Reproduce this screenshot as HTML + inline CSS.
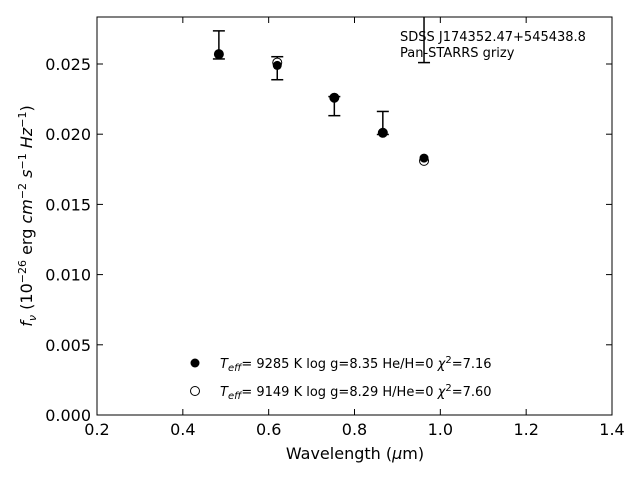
<!DOCTYPE html>
<html><head><meta charset="utf-8"><style>
body{margin:0;background:#fff}
svg{display:block;font-family:"DejaVu Sans","Liberation Sans",sans-serif}
</style></head><body>
<svg id="chart" width="640" height="480" viewBox="0 0 640 480">
<rect x="0" y="0" width="640" height="480" fill="#fff"/>
<defs><clipPath id="clip"><rect x="97" y="17" width="515" height="398"/></clipPath></defs>
<g id="marks" clip-path="url(#clip)"></g>
<g id="axes"></g>
<rect x="97" y="17" width="515" height="398" fill="none" stroke="#000" stroke-width="1"/>
<text x="400" y="41" font-size="13">SDSS J174352.47+545438.8</text>
<text x="400" y="57" font-size="13">Pan-STARRS grizy</text>
<text x="355" y="459" font-size="16" text-anchor="middle">Wavelength (<tspan font-style="italic">μ</tspan>m)</text>
<text transform="translate(32,216) rotate(-90)" font-size="16" text-anchor="middle"><tspan font-style="italic">f</tspan><tspan font-style="italic" font-size="11" dy="4">ν</tspan><tspan dy="-4"> (10</tspan><tspan font-size="11" dy="-6">−26</tspan><tspan dy="6"> erg </tspan><tspan font-style="italic">cm</tspan><tspan font-size="11" dy="-6">−2</tspan><tspan dy="6"> </tspan><tspan font-style="italic">s</tspan><tspan font-size="11" dy="-6">−1</tspan><tspan dy="6"> </tspan><tspan font-style="italic">Hz</tspan><tspan font-size="11" dy="-6">−1</tspan><tspan dy="6">)</tspan></text>
<g font-size="13">
<circle cx="195" cy="363" r="4.5" fill="#000"/>
<text x="220" y="368"><tspan font-style="italic">T</tspan><tspan font-style="italic" font-size="10" dy="3">eff</tspan><tspan dy="-3">=  9285 K  log g=8.35  He/H=0  </tspan><tspan font-style="italic">χ</tspan><tspan font-size="10" dy="-5">2</tspan><tspan dy="5">=7.16</tspan></text>
<circle cx="195" cy="391" r="4.5" fill="#fff" stroke="#000"/>
<text x="220" y="396"><tspan font-style="italic">T</tspan><tspan font-style="italic" font-size="10" dy="3">eff</tspan><tspan dy="-3">=  9149 K  log g=8.29  H/He=0  </tspan><tspan font-style="italic">χ</tspan><tspan font-size="10" dy="-5">2</tspan><tspan dy="5">=7.60</tspan></text>
</g>
</svg>
<script>
const wavelengths = [0.484, 0.620, 0.753, 0.866, 0.962];
const observedFlux = [0.02636, 0.0247, 0.0220, 0.0208, 0.0276];
const observedErr = [0.0010, 0.00082, 0.00068, 0.00082, 0.0025];
const modelHFlux = [0.0257, 0.0249, 0.0226, 0.0201, 0.0183];
const modelHeFlux = [0.0257, 0.0251, 0.0226, 0.0201, 0.0181];
const xTicks = [0.2, 0.4, 0.6, 0.8, 1.0, 1.2, 1.4];
const xTickLabels = ["0.2","0.4","0.6","0.8","1.0","1.2","1.4"];
const yTicks = [0, 0.005, 0.010, 0.015, 0.020, 0.025];
const yTickLabels = ["0.000","0.005","0.010","0.015","0.020","0.025"];

const X = v => 97 + (v - 0.2) / 1.2 * 515;
const Y = v => 415 - v / 0.005 * 70.2;
const NS = "http://www.w3.org/2000/svg";
const marks = document.getElementById("marks");
const axes = document.getElementById("axes");
function mk(tag, attrs, parent){const e=document.createElementNS(NS,tag);for(const k in attrs)e.setAttribute(k,attrs[k]);parent.appendChild(e);return e;}

xTicks.forEach((t,i)=>{
  const x=X(t);
  const a=mk("line",{x1:x,x2:x,y1:415,y2:409,stroke:"#000"},axes);
  
  
  const b=mk("line",{x1:x,x2:x,y1:17,y2:23,stroke:"#000"},axes);
  
  
  const l=mk("text",{x:x,y:435,"font-size":16,"text-anchor":"middle"},axes);
  l.textContent=xTickLabels[i];
  
  
});
yTicks.forEach((t,i)=>{
  const y=Y(t);
  const a=mk("line",{x1:97,x2:103,y1:y,y2:y,stroke:"#000"},axes);
  
  
  const b=mk("line",{x1:606,x2:612,y1:y,y2:y,stroke:"#000"},axes);
  
  
  const l=mk("text",{x:91,y:y+6,"font-size":16,"text-anchor":"end"},axes);
  l.textContent=yTickLabels[i];
  
  
});
wavelengths.forEach((w,i)=>{
  const x=X(w), yt=Y(observedFlux[i]+observedErr[i]), yb=Y(observedFlux[i]-observedErr[i]);
  const g=mk("g",{stroke:"#000","stroke-width":1.5},marks);
  
  
  mk("line",{x1:x,x2:x,y1:yt,y2:yb},g);
  mk("line",{x1:x-6,x2:x+6,y1:yt,y2:yt},g);
  mk("line",{x1:x-6,x2:x+6,y1:yb,y2:yb},g);
});
wavelengths.forEach((w,i)=>{
  const c=mk("circle",{cx:X(w),cy:Y(modelHeFlux[i]),r:4.5,fill:"#fff",stroke:"#000"},marks);
  
  
});
wavelengths.forEach((w,i)=>{
  const c=mk("circle",{cx:X(w),cy:Y(modelHFlux[i]),r:4.5,fill:"#000"},marks);
  
  
});
</script>
</body></html>
